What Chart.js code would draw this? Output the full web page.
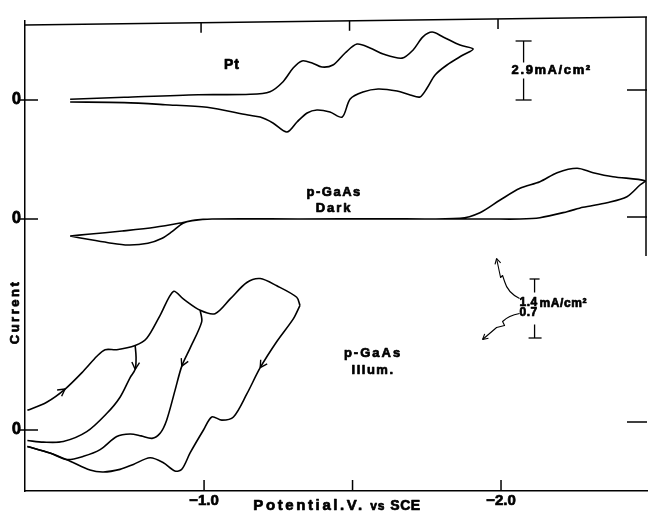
<!DOCTYPE html>
<html><head><meta charset="utf-8">
<script src="https://cdn.jsdelivr.net/npm/chart.js@4.4.1/dist/chart.umd.min.js"></script>
<style>html,body{margin:0;padding:0;background:#fff;}canvas{display:block;}</style>
</head><body>
<canvas id="c" width="648" height="513" style="width:648px;height:513px"></canvas>
<script>
// ---------- axis ticks ----------
const xTickValues = [-1.0, -1.5, -2.0];
const xTickLabels = ['\u22121.0', '', '\u22122.0'];

// ---------- Pt (mA/cm^2 vs V) ----------
const ptPotential = [-0.549,-0.731,-0.980,-1.155,-1.222,-1.266,-1.300,-1.330,-1.364,-1.397,-1.434,-1.475,-1.515,-1.559,-1.603,-1.667,-1.704,-1.737,-1.768,-1.805,-1.862,-1.906,
  -1.872,-1.818,-1.778,-1.751,-1.727,-1.694,-1.650,-1.586,-1.535,-1.492,-1.465,-1.424,-1.380,-1.347,-1.313,-1.279,-1.232,-1.189,-1.148,-1.010,-0.869,-0.731,-0.549];
const ptCurrent = [0.034,0.133,0.26,0.28,0.41,0.90,1.57,1.92,1.82,1.62,1.72,2.31,2.75,2.56,2.26,2.06,2.46,3.10,3.34,3.10,2.70,2.51,
  2.21,1.72,1.23,0.59,0.15,0.25,0.44,0.54,0.39,0.05,-0.84,-0.59,-0.49,-0.64,-1.08,-1.57,-1.13,-0.84,-0.74,-0.36,-0.23,-0.13,-0.10];

// ---------- p-GaAs dark ----------
const darkPotential = [-0.549,-0.609,-0.677,-0.744,-0.811,-0.859,-0.892,-0.929,-0.960,-1.027,-1.323,-1.600,-1.862,-1.929,-1.997,-2.064,-2.131,-2.189,-2.256,-2.310,-2.377,-2.485,
  -2.468,-2.424,-2.357,-2.276,-2.222,-2.131,-2.064,-1.963,-1.600,-1.300,-1.027,-0.970,-0.926,-0.835,-0.724,-0.609,-0.549];
const darkCurrent = [-0.403,-0.482,-0.562,-0.617,-0.577,-0.458,-0.301,-0.102,-0.040,0,0,0.005,0.017,0.150,0.451,0.729,0.885,1.099,1.203,1.099,1.004,0.909,
  0.807,0.529,0.387,0.278,0.173,0.031,0,0,0,0,0,-0.024,-0.088,-0.197,-0.285,-0.363,-0.403];

// ---------- p-GaAs illuminated ----------
const illumForwardPotential = [-0.405,-0.470,-0.532,-0.594,-0.639,-0.667,-0.706,-0.768,-0.807,-0.852,-0.897,-0.930,-0.987,-1.037,-1.088,-1.144,-1.189,-1.245,-1.312,-1.323];
const illumForwardCurrent = [0.233,0.330,0.486,0.700,0.875,0.953,0.953,1.003,1.089,1.361,1.645,1.555,1.420,1.380,1.555,1.750,1.797,1.711,1.575,1.478];

const illumReturn1Potential = [-0.768,-0.771,-0.768,-0.751,-0.717,-0.672,-0.605,-0.526,-0.459,-0.405];
const illumReturn1Current = [1.003,0.863,0.720,0.622,0.389,0.195,-0.020,-0.137,-0.144,-0.125];

const illumReturn2Potential = [-0.987,-0.992,-0.953,-0.925,-0.902,-0.874,-0.852,-0.825,-0.788,-0.751,-0.706,-0.650,-0.594,-0.538,-0.481,-0.405];
const illumReturn2Current = [1.420,1.283,0.972,0.758,0.467,0.117,-0.039,-0.099,-0.070,-0.047,-0.078,-0.233,-0.312,-0.350,-0.272,-0.195];

const illumReturn3Potential = [-1.323,-1.301,-1.245,-1.189,-1.144,-1.099,-1.060,-1.026,-0.998,-0.953,-0.925,-0.902,-0.863,-0.818,-0.762,-0.717,-0.661,-0.616,-0.549,-0.481,-0.405];
const illumReturn3Current = [1.478,1.322,1.050,0.739,0.428,0.155,0.117,0.155,0,-0.272,-0.467,-0.487,-0.389,-0.330,-0.408,-0.467,-0.498,-0.475,-0.370,-0.272,-0.195];

// ---------- scale bars (mA/cm^2) ----------
const ptScaleBar = 2.9;
const darkScaleBar = 1.4;
const illumScaleBar = 0.7;

// ---------- layout of the stacked traces (axis units) ----------
const ptZero = 39.1, darkZero = 27.2, illumZero = 6.1;
const ptGain = 5.9 / 2.9, darkGain = 5.9 / 1.4, illumGain = 5.9 / 0.7;
const zeroLevels = [illumZero, darkZero, ptZero];
const rightTickLevels = [6.9, 27.4, 40.1];
const bar2Base = 15.3;
const FONT = "'Liberation Sans', Arial, Helvetica, sans-serif";

function series(pot, cur, zero, gain) {
  return pot.map((v, i) => ({ x: v, y: zero + gain * cur[i] }));
}
function ds(points) {
  return { data: points, showLine: true, borderColor: '#000', borderWidth: 1.6, pointRadius: 0, tension: 0.3, fill: false };
}

const datasets = [
  ds(series(ptPotential, ptCurrent, ptZero, ptGain)),
  ds(series(darkPotential, darkCurrent, darkZero, darkGain)),
  ds(series(illumForwardPotential, illumForwardCurrent, illumZero, illumGain)),
  ds(series(illumReturn1Potential, illumReturn1Current, illumZero, illumGain)),
  ds(series(illumReturn2Potential, illumReturn2Current, illumZero, illumGain)),
  ds(series(illumReturn3Potential, illumReturn3Current, illumZero, illumGain))
];
const arrowMarks = [{ ds: 2, idx: 2 }, { ds: 3, idx: 2 }, { ds: 4, idx: 3 }, { ds: 5, idx: 3 }];

function txt(ctx, s, x, y, size, spacing, align) {
  ctx.font = 'bold ' + size + 'px ' + FONT;
  ctx.letterSpacing = (spacing || 0) + 'px';
  ctx.textAlign = align || 'center';
  ctx.textBaseline = 'middle';
  ctx.fillStyle = '#000';
  ctx.strokeStyle = '#000';
  ctx.lineWidth = 0.7;
  ctx.lineJoin = 'round';
  ctx.fillText(s, x, y);
  ctx.strokeText(s, x, y);
  ctx.letterSpacing = '0px';
}
function line(ctx, x1, y1, x2, y2) { ctx.beginPath(); ctx.moveTo(x1, y1); ctx.lineTo(x2, y2); ctx.stroke(); }
function head(ctx, tx, ty, fx, fy, len) {
  const a = Math.atan2(ty - fy, tx - fx);
  for (const s of [-0.5, 0.5]) {
    line(ctx, tx, ty, tx - len * Math.cos(a + s), ty - len * Math.sin(a + s));
  }
}

const decor = {
  id: 'decor',
  afterDraw(chart) {
    const ctx = chart.ctx, ca = chart.chartArea;
    const xs = chart.scales.x, ys = chart.scales.y;
    const px = v => xs.getPixelForValue(v), py = v => ys.getPixelForValue(v);
    ctx.save();
    ctx.strokeStyle = '#000'; ctx.lineWidth = 1.5; ctx.lineCap = 'butt';
    // tilted top border (scanned frame)
    const topAt = x => ca.top + 4 - 8 * (x - ca.left) / (ca.right - ca.left);
    line(ctx, ca.left, topAt(ca.left), ca.right, topAt(ca.right));
    // right border (upper part)
    line(ctx, ca.right - 1, topAt(ca.right), ca.right - 1, (ca.top + ca.bottom) / 2);
    // top & bottom ticks
    xTickValues.forEach(v => {
      const x = px(v);
      line(ctx, x - 3, topAt(x), x - 3, topAt(x) + 10);
      line(ctx, x, ca.bottom, x, ca.bottom - 11);
    });
    // left zero ticks & right ticks
    zeroLevels.forEach(v => line(ctx, ca.left - 5, py(v), ca.left + 13, py(v)));
    rightTickLevels.forEach(v => line(ctx, ca.right - 20, py(v), ca.right, py(v)));

    // arrowheads on illuminated sweeps
    ctx.lineWidth = 1.4;
    arrowMarks.forEach(m => {
      const meta = chart.getDatasetMeta(m.ds);
      const p = meta.data[m.idx], q = meta.data[m.idx - 1];
      head(ctx, p.x, p.y, q.x, q.y, 8);
    });

    // Pt scale bar
    ctx.lineWidth = 1.3;
    const b1x = px(-2.076), b1a = py(ptZero), b1b = py(ptZero + ptScaleBar * ptGain), b1m = (b1a + b1b) / 2;
    line(ctx, b1x, b1a, b1x, b1m + 8); line(ctx, b1x, b1m - 8, b1x, b1b);
    line(ctx, b1x - 8, b1a, b1x + 8, b1a); line(ctx, b1x - 8, b1b, b1x + 8, b1b);
    txt(ctx, '2.9mA/cm\u00b2', b1x - 12, b1m, 13, 1.6, 'left');

    // dark / illum scale bar
    ctx.strokeStyle = '#000'; ctx.lineWidth = 1.3;
    const b2x = px(-2.113), b2a = py(bar2Base), b2b = py(bar2Base + darkScaleBar * darkGain), b2m = (b2a + b2b) / 2;
    line(ctx, b2x, b2a, b2x, b2m + 16); line(ctx, b2x, b2m - 16, b2x, b2b);
    line(ctx, b2x - 6, b2a, b2x + 7, b2a); line(ctx, b2x - 5, b2b, b2x + 5, b2b);
    txt(ctx, String(darkScaleBar), b2x - 6, b2m - 6, 12, 0.5);
    txt(ctx, String(illumScaleBar), b2x - 6, b2m + 4, 12, 0.5);
    txt(ctx, 'mA/cm\u00b2', b2x + 5, b2m - 5, 12, 0.6, 'left');
    // squiggly pointers
    ctx.lineWidth = 1.1;
    ctx.beginPath();
    ctx.moveTo(b2x - 15, b2m - 10);
    ctx.quadraticCurveTo(b2x - 27, b2m - 16, b2x - 30, b2m - 27);
    ctx.lineTo(b2x - 32, b2m - 33); ctx.lineTo(b2x - 34, b2m - 31);
    ctx.lineTo(b2x - 38, b2m - 50);
    ctx.stroke();
    head(ctx, b2x - 38, b2m - 50, b2x - 36, b2m - 42, 6);
    ctx.beginPath();
    ctx.moveTo(b2x - 15, b2m + 5);
    ctx.quadraticCurveTo(b2x - 26, b2m + 7, b2x - 32, b2m + 13);
    ctx.lineTo(b2x - 30, b2m + 17); ctx.lineTo(b2x - 38, b2m + 19);
    ctx.lineTo(b2x - 52, b2m + 31);
    ctx.stroke();
    head(ctx, b2x - 52, b2m + 31, b2x - 45, b2m + 25, 6);

    // trace labels
    txt(ctx, 'Pt', px(-1.094), py(42.6), 14, 1);
    txt(ctx, 'p-GaAs', px(-1.438), py(29.9), 13, 1.5);
    txt(ctx, 'Dark', px(-1.438), py(28.3), 13, 2);
    txt(ctx, 'p-GaAs', px(-1.569), py(13.8), 13, 2);
    txt(ctx, 'Illum.', px(-1.569), py(12.1), 13, 1.5);

    // axis titles
    const ty = ca.bottom + 15;
    const tx = px(-1.166);
    txt(ctx, 'Potential.V.', tx, ty, 15, 2.6, 'left');
    txt(ctx, 'vs', tx + 117, ty + 1, 12, 0.8, 'left');
    txt(ctx, 'SCE', tx + 137, ty, 14, 0.5, 'left');
    ctx.save();
    ctx.translate(15, py(17.9));
    ctx.rotate(-Math.PI / 2);
    txt(ctx, 'Current', 0, 0, 13, 2.5);
    ctx.restore();
    ctx.restore();
  }
};

new Chart(document.getElementById('c'), {
  type: 'scatter',
  data: { datasets },
  options: {
    responsive: false, animation: false, devicePixelRatio: 1,
    layout: { padding: { top: 21, right: 1, left: 0, bottom: 0 } },
    plugins: { legend: { display: false }, tooltip: { enabled: false } },
    elements: { line: { capBezierPoints: true } },
    scales: {
      x: {
        type: 'linear', reverse: true, min: -2.4916, max: -0.397, position: 'bottom',
        border: { display: true, color: '#000', width: 1.5 },
        grid: { display: false, drawTicks: false },
        ticks: { color: '#000', textStrokeColor: '#000', textStrokeWidth: 0.7,
          font: { family: FONT, weight: 'bold', size: 15 }, padding: 1, autoSkip: false, maxRotation: 0,
          callback: (v, i) => xTickLabels[i] },
        afterBuildTicks: s => { s.ticks = xTickValues.map(v => ({ value: v })); },
        afterFit: s => { s.height = 22; }
      },
      y: {
        type: 'linear', min: 0, max: 47, position: 'left',
        border: { display: true, color: '#000', width: 1.5 },
        grid: { display: false, drawTicks: false },
        ticks: { color: '#000', textStrokeColor: '#000', textStrokeWidth: 0.8,
          font: { family: FONT, weight: 'bold', size: 16 }, padding: 4, autoSkip: false,
          callback: () => '0' },
        afterBuildTicks: s => { s.ticks = zeroLevels.map(v => ({ value: v })); },
        afterFit: s => { s.width = 25; }
      }
    }
  },
  plugins: [decor]
});
</script>
</body></html>
